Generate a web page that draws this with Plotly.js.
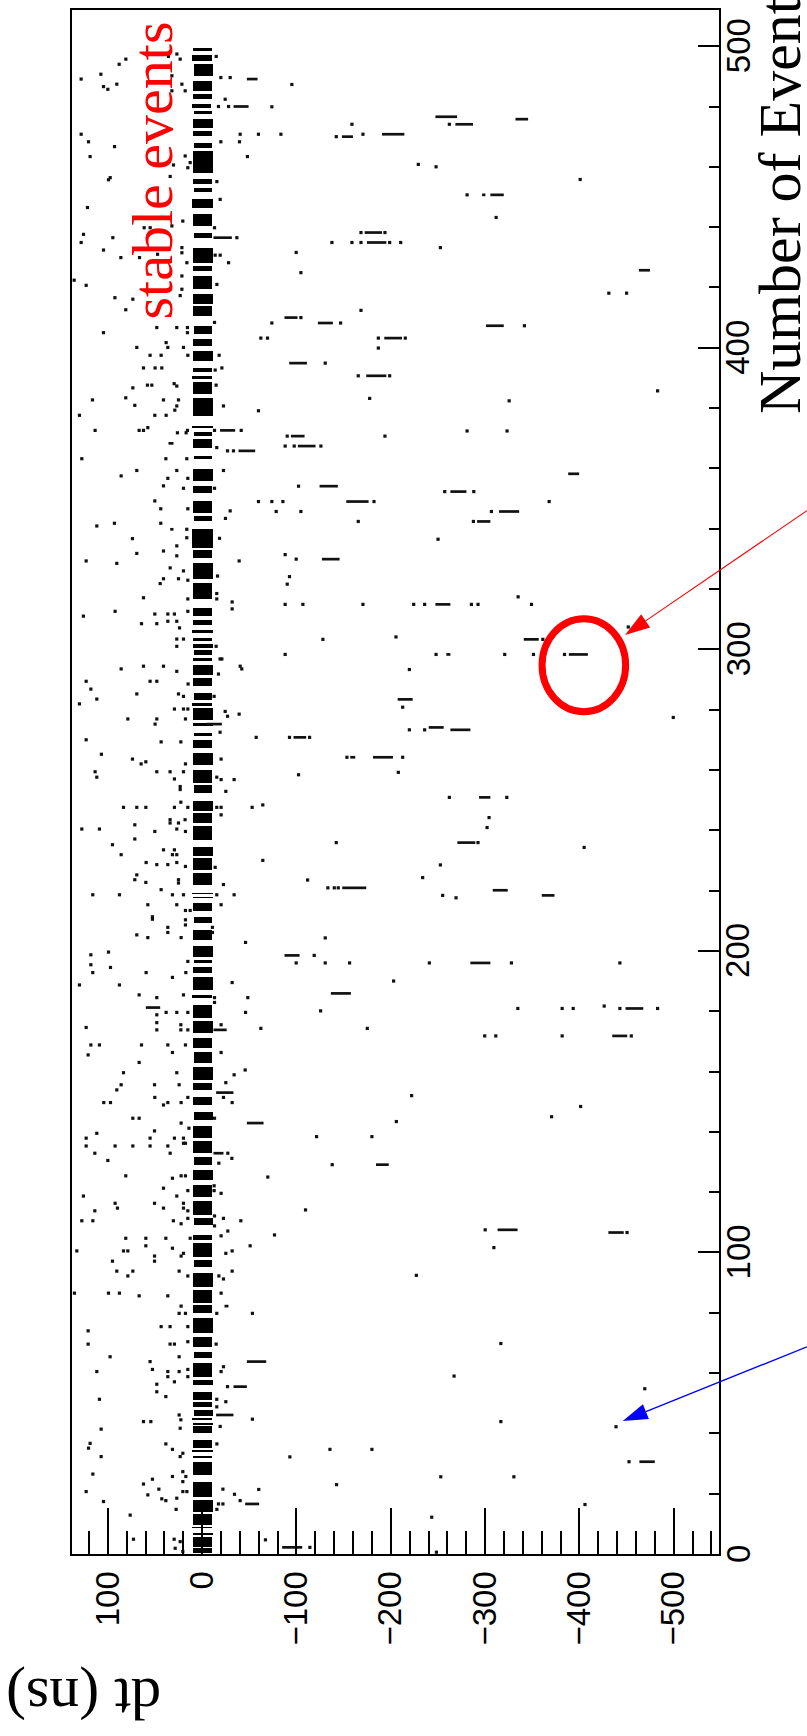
<!DOCTYPE html>
<html>
<head>
<meta charset="utf-8">
<script src="https://cdn.plot.ly/plotly-3.0.1.min.js"></script>
<style>html,body{margin:0;padding:0;background:#fff;}#chart{width:807px;height:1736px;}</style>
</head>
<body>
<div id="chart"></div>
<script>
// ---------------- DATA ----------------
// axis tick values
const dtTicks = [100, 0, -100, -200, -300, -400, -500];
const eventTicks = [0, 100, 200, 300, 400, 500];

// dense band of hits around dt = 0 : event span (top/bottom) and dt span (hi/lo)
const bandTop = [
499.5,497.0,494.0,488.5,484.0,480.8,478.5,475.8,472.0,468.0,
465.3,455.9,453.1,449.2,444.3,438.2,433.2,427.0,423.8,417.7,
413.8,407.3,402.8,399.0,393.4,390.7,388.5,383.5,374.1,372.2,
369.6,364.1,359.7,354.2,349.2,344.2,339.8,333.1,328.7,322.1,
313.7,309.8,306.5,303.8,301.6,299.9,297.1,294.9,290.5,285.5,
282.2,280.5,275.6,272.2,270.0,265.6,260.1,255.1,249.6,245.7,
241.3,234.6,230.8,225.8,219.2,218.0,215.8,211.4,207.0,201.5,
197.0,194.8,191.5,185.4,182.1,176.6,171.0,166.6,161.6,156.1,
151.7,146.7,141.8,136.8,131.8,127.4,122.4,116.9,111.3,105.8,
103.0,97.5,93.1,87.6,82.6,78.2,72.1,67.1,63.2,57.7,
53.8,50.4,47.8,45.0,43.4,42.3,37.8,34.5,32.5,30.6,
24.0,17.9,13.3,9.1,7.0,5.7,1.9];
const bandBottom = [
498.3,495.0,490.0,485.2,482.4,479.6,477.5,473.0,470.3,466.4,
458.0,454.2,451.5,446.5,440.4,436.5,428.2,425.5,419.4,414.5,
410.6,404.5,400.6,395.6,391.8,389.6,384.6,377.4,373.3,370.8,
366.9,363.0,355.8,352.0,345.3,342.5,333.7,330.4,323.2,316.6,
311.0,308.2,305.4,302.6,300.4,298.2,296.0,291.6,287.7,283.3,
281.2,276.7,274.5,271.1,267.3,261.7,255.7,252.3,246.3,242.4,
236.8,231.3,226.9,222.0,218.7,217.5,213.1,209.2,203.7,198.1,
196.0,192.6,187.1,184.3,177.7,172.7,167.7,162.7,157.2,153.9,
148.9,144.0,137.9,132.9,129.0,124.0,118.5,112.4,109.1,104.1,
98.6,95.3,88.7,83.1,79.8,73.2,68.8,64.9,58.8,56.0,
51.0,48.9,45.6,44.4,42.8,40.0,35.1,33.9,31.7,26.2,
19.0,14.0,9.6,8.5,6.3,2.4,0.3];
const bandHi = [
9.5,10.5,9.0,10.0,9.5,10.5,9.0,10.0,9.5,9.0,
10.0,9.5,9.0,10.5,10.0,9.0,10.0,9.5,10.0,9.5,
10.0,9.0,9.5,10.0,9.5,10.5,9.5,10.0,10.5,9.0,
9.5,9.0,10.0,9.5,10.0,9.0,10.5,9.5,10.0,9.5,
10.0,9.5,10.5,10.0,9.5,9.0,9.5,10.0,9.5,9.0,
10.5,10.0,9.5,9.0,10.0,9.5,10.0,9.0,10.0,9.5,
10.0,9.5,10.0,9.5,10.5,10.0,9.5,9.0,10.0,9.5,
9.0,9.5,10.0,10.5,10.0,9.5,10.0,9.0,10.0,9.5,
10.0,9.0,10.0,9.5,9.0,10.0,9.5,10.0,9.0,9.5,
10.0,9.0,9.5,10.0,9.5,10.0,9.5,9.0,10.0,9.5,
10.0,9.5,9.0,10.5,10.0,9.5,10.0,10.5,9.5,10.0,
9.5,10.0,9.5,10.5,10.0,9.5,10.0];
const bandLo = [
-10.0,-10.5,-11.0,-10.0,-10.5,-9.5,-10.0,-11.0,-10.5,-10.0,
-11.0,-10.5,-10.0,-11.0,-10.5,-10.0,-11.0,-10.0,-10.5,-11.0,
-10.5,-10.0,-10.5,-11.0,-10.0,-10.5,-10.0,-11.0,-11.0,-10.5,
-10.0,-10.5,-11.0,-10.0,-10.5,-10.0,-11.0,-10.5,-11.0,-10.5,
-10.5,-10.0,-11.0,-10.5,-11.0,-10.0,-10.5,-11.0,-10.0,-10.5,
-10.5,-11.0,-11.0,-10.5,-10.0,-11.0,-10.5,-10.0,-11.0,-10.5,
-10.0,-11.0,-10.5,-10.0,-11.0,-11.0,-10.5,-10.0,-10.5,-11.0,
-10.0,-10.5,-11.0,-10.0,-10.5,-11.0,-10.0,-10.5,-11.0,-10.5,
-10.0,-11.0,-10.5,-10.0,-10.5,-11.0,-10.5,-10.0,-11.0,-10.5,
-10.0,-10.5,-11.0,-10.5,-10.0,-11.0,-10.5,-10.0,-10.5,-11.0,
-10.5,-10.0,-11.0,-10.5,-11.0,-10.0,-10.5,-11.0,-10.5,-10.0,
-10.5,-11.0,-10.0,-10.5,-11.0,-10.5,-10.0];

// isolated hits: dt (ns) and event number
const dotDt = [
// events 500-416
128.3,107.4,88.0,80.9,104.6,100.0,90.5,26.8,23.3,35.7,
32.1,32.1,21.5,18.0,-14.9,-19.8,-29.7,-24.4,-17.3,-28.0,
128.3,120.5,92.9,118.8,-40.3,-39.6,-19.8,-48.0,30.4,33.9,
99.3,97.5,18.0,12.7,15.2,-15.6,121.6,-19.1,61.5,55.1,
32.1,20.5,-13.1,-36.8,125.8,128.3,104.6,94.7,86.2,66.4,
47.3,21.5,21.5,16.2,-13.8,-19.1,-28.0,123.0,135.7,21.5,
21.5,-15.6,23.3,92.5,
// events 416-317
73.5,81.0,48.1,26.9,104.6,15.6,15.6,-13.1,69.3,38.2,
36.4,19.8,55.2,43.5,15.2,-18.0,62.2,49.9,42.8,-13.8,
-20.9,73.5,58.0,53.4,29.7,26.9,-14.8,116.3,81.0,41.0,
25.1,26.9,71.4,-22.6,130.1,50.2,38.2,29.0,113.5,66.8,
62.2,57.6,26.2,17.0,15.6,-13.1,-41.4,16.3,127.6,38.5,
-15.5,-26.9,-33.2,85.9,69.3,36.4,26.9,-22.6,15.2,41.0,
19.8,-13.1,50.2,43.9,15.2,-29.7,111.7,93.0,43.9,-24.7,
16.3,16.3,-18.4,73.9,69.3,41.0,26.9,26.9,123.0,90.5,
-39.2,33.9,19.8,44.5,41.0,25.1,15.2,-16.3,62.2,
// events 317-149
15.2,-15.5,-15.5,-31.8,-31.8,125.9,92.3,50.2,36.4,29.4,
15.2,64.3,48.1,36.4,26.9,24.0,26.9,19.8,26.9,-14.8,
-19.0,-20.9,85.9,62.2,41.0,26.9,-40.3,-42.0,-17.3,123.0,
118.0,111.7,55.2,48.1,14.9,69.3,25.1,19.8,-12.7,130.1,
78.8,48.1,49.9,29.4,19.8,15.2,17.7,-24.4,-26.9,-39.2,
-19.0,123.0,43.5,22.6,106.8,73.9,59.7,64.7,17.7,-20.1,
113.5,111.7,48.1,34.0,19.8,29.4,-15.5,-20.1,-33.9,23.3,
23.3,-25.1,83.4,69.3,59.7,29.4,15.2,-15.5,-20.1,22.6,
-20.1,34.0,34.0,18.1,25.1,127.6,108.9,71.4,71.4,50.2,
26.9,17.7,95.1,85.9,41.0,29.4,31.5,26.9,59.4,48.1,
36.4,26.9,17.7,-13.8,69.3,71.4,59.7,25.1,25.1,-22.6,
116.0,87.7,43.5,31.5,19.8,-15.5,-33.9,57.6,26.9,-20.1,
17.7,12.7,52.7,52.7,17.7,17.7,36.4,36.4,69.3,57.6,
22.3,-10.9,-10.9,-46.0,118.0,99.3,118.0,97.2,116.0,59.4,
15.2,17.3,31.5,-31.8,130.1,87.7,66.8,48.1,19.8,-13.1,
-13.1,-48.4,48.1,38.2,26.9,15.2,-46.0,48.1,48.1,123.0,
22.6,22.6,15.2,-20.1,118.0,108.9,64.3,36.4,17.7,120.9,
31.5,-20.1,66.8,83.4,26.9,-45.6,-33.9,85.9,90.5,50.5,
24.4,-25.1,104.3,97.2,50.2,41.0,36.4,22.3,15.2,-22.6,
-31.8,
// events 145-46
73.5,66.8,22.3,14.0,-13.1,111.7,123.0,123.0,92.3,73.5,
55.2,55.2,50.5,29.4,19.8,36.4,19.8,17.7,-27.2,-31.5,
113.8,33.9,100.0,-17.7,81.0,31.5,22.3,17.7,41.0,15.2,
26.9,-12.7,-12.7,-20.1,125.9,92.3,89.8,50.5,41.0,19.8,
19.8,15.2,113.8,127.6,115.9,30.5,15.2,22.3,-13.1,-13.1,
-22.6,-41.0,-27.2,81.0,59.7,38.5,59.7,83.4,78.8,31.5,
132.9,12.7,-20.1,-50.9,22.3,19.8,-25.1,-31.8,95.1,50.5,
50.5,90.5,73.5,78.8,24.4,15.2,-17.7,-22.6,-31.8,135.4,
99.3,87.7,66.8,36.4,-20.1,22.3,17.7,24.4,-15.5,43.5,
34.0,15.2,120.9,120.9,34.0,29.4,15.2,-14.8,97.6,24.4,
55.2,52.7,111.7,36.4,36.4,24.4,15.2,15.2,-22.6,-20.1,
29.4,48.1,48.1,38.5,-26.9,108.9,-15.5,-15.5,-25.1,24.4,
// events 45-0
62.2,54.4,22.6,107.1,23.3,-19.1,120.5,118.8,107.1,38.5,
31.5,23.3,20.5,-15.6,115.9,52.7,62.2,45.9,31.5,20.5,
17.3,20.5,123.0,57.6,42.8,38.5,26.9,20.5,16.2,-22.0,
-34.3,-40.3,104.6,-17.3,-22.0,27.6,-15.6,76.3,72.8,29.7,
28.6,23.3,20.5,
// far side (dt < -50)
-95.1,-73.9,-158.8,-262.1,-59.7,-83.5,-142.2,-170.5,-229.2,-248.0,
-400.8,-280.9,-311.7,-168.4,-193.8,-137.6,-158.8,-168.4,-198.8,-210.5,
-252.6,-99.7,-104.7,-431.2,-450.0,-168.4,-73.9,-104.7,-146.8,-341.7,
-62.2,-69.3,-186.8,-215.4,-186.8,-130.5,-165.5,-198.8,-177.6,-325.5,
-482.9,-59.7,-280.9,-323.3,-90.2,-193.8,-88.0,-97.6,-125.9,-102.2,
-257.2,-288.0,-59.7,-73.9,-85.6,-182.2,-367.9,-78.5,-104.7,-306.7,
-165.5,-287.6,-250.1,-88.0,-99.7,-92.6,-90.2,-88.0,-106.8,-170.5,
-224.3,-235.9,-285.5,-292.5,-349.2,-335.0,-128.0,-205.5,-361.2,-451.8,
-88.0,-248.0,-320.8,-351.3,-384.2,-219.7,-212.6,-499.5,-219.7,-235.9,
-57.3,-92.6,-113.9,-153.5,-212.6,-102.2,-208.0,-262.1,-323.0,-53.0,
-64.3,-304.2,-302.1,-142.2,-292.5,-405.0,-64.3,-252.6,-111.8,-233.8,
-133.3,-140.1,-144.3,-255.0,-269.2,-130.5,-118.8,-99.7,-130.5,-156.3,
-240.9,-327.9,-442.9,-203.0,-125.6,-334.7,-381.7,-393.4,-442.9,-482.9,
-426.3,-62.2,-175.1,-299.6,-311.3,-381.7,-455.0,-222.1,-205.9,-121.3,
-180.0,-370.5,-401.3,-137.9,-69.6,-109.6,-76.7,-300.1,-450.5,-309.3,
-227.1,-53.3,-316.7,-267.1,-469.3,-53.3,-316.7,-438.8,-135.5,-180.0,
-93.0,-452.6,-253.0,-330.5,-142.5,-60.0,-405.9,-243.4,-67.1,-114.2,
-248.4];
const dotEv = [
// events 500-416
489.1,490.7,494.0,495.7,486.6,485.7,487.4,497.4,495.7,496.6,
490.2,485.2,487.4,485.2,496.6,489.6,489.6,482.4,480.0,480.0,
470.8,468.3,466.7,463.4,470.8,468.3,468.3,463.4,460.6,456.8,
455.7,456.4,463.6,461.4,459.7,455.1,446.5,449.2,439.8,439.8,
440.4,442.0,439.8,436.5,437.6,434.9,432.4,436.5,429.9,429.9,
431.0,433.2,431.5,428.2,430.7,430.7,428.2,420.7,422.4,423.8,
419.4,421.0,417.3,416.6,
// events 416-317
416.1,412.6,406.7,406.7,405.0,406.7,405.0,408.4,400.1,401.7,
400.1,400.1,397.5,397.5,397.5,397.5,393.3,393.3,393.3,392.6,
393.3,386.7,387.6,387.6,388.1,387.3,387.6,382.7,383.4,382.7,
382.7,380.7,380.9,380.7,377.6,377.6,377.6,379.3,372.6,372.6,
372.6,373.5,371.8,371.8,372.6,372.6,372.6,363.2,363.2,363.2,
366.9,365.8,365.8,357.5,359.3,356.7,359.3,359.3,356.7,354.2,
353.4,353.4,349.2,346.6,346.6,345.9,340.9,341.8,341.8,343.4,
339.8,337.0,336.8,336.7,331.8,332.6,334.3,331.0,329.3,328.5,
329.3,327.0,326.0,321.8,323.4,323.4,322.9,324.3,317.1,
// events 317-149
316.7,318.5,316.7,315.7,313.4,311.0,312.6,311.7,311.7,311.7,
312.6,308.5,308.5,309.3,309.3,307.1,303.4,303.4,301.0,301.0,
296.8,296.8,293.5,294.4,294.4,292.7,294.4,293.5,291.8,289.4,
286.8,283.5,289.4,289.4,288.5,285.2,285.2,284.4,284.4,281.9,
276.9,276.9,275.2,280.2,280.2,280.2,276.9,279.4,277.8,278.5,
272.5,270.0,269.3,269.3,265.2,263.6,262.7,262.0,262.0,263.6,
259.4,257.6,259.4,259.4,259.4,257.0,257.6,256.8,256.8,254.5,
253.5,252.9,247.6,247.6,247.6,247.6,247.6,247.6,247.6,249.3,
245.1,243.5,242.4,243.5,242.4,240.4,240.4,241.8,237.1,239.6,
240.4,239.6,235.2,231.9,233.5,233.5,231.9,231.9,229.3,228.6,
228.6,229.3,228.0,227.7,225.2,223.6,222.7,223.6,222.5,222.0,
218.6,218.6,220.3,218.6,218.6,218.6,218.6,215.3,215.3,215.3,
213.4,213.4,211.3,210.5,210.3,208.6,207.8,206.1,205.3,204.4,
204.4,207.8,206.1,202.8,198.7,199.6,195.4,194.5,192.8,192.8,
196.5,192.8,191.2,189.5,188.7,188.7,185.4,184.5,185.4,184.5,
182.9,184.5,178.8,179.6,179.6,179.6,179.6,176.2,173.8,174.6,
175.5,173.8,173.8,175.5,168.8,168.8,168.8,168.8,168.8,165.5,
166.3,166.3,163.0,159.6,159.6,160.5,158.9,155.6,153.9,155.6,
155.6,156.3,149.7,149.7,151.4,148.9,149.7,149.7,151.4,151.4,
149.7,
// events 145-46
144.5,144.5,142.9,141.2,144.5,139.5,137.9,135.3,135.3,135.3,
135.3,137.9,140.3,137.9,137.9,135.3,136.2,136.2,132.9,131.2,
132.9,132.9,130.5,129.6,125.4,124.6,125.4,125.4,121.3,120.5,
118.7,122.1,120.5,119.6,118.7,116.3,114.7,116.3,114.7,116.3,
114.7,113.8,113.8,110.5,110.5,110.5,111.3,109.5,112.1,108.8,
111.3,110.5,107.1,104.7,104.7,104.7,102.2,100.5,100.5,101.4,
100.5,104.7,105.5,102.2,98.8,99.7,99.7,100.5,97.1,98.8,
97.1,93.8,93.8,92.2,93.8,92.2,92.2,91.2,93.8,86.5,
86.5,86.5,85.6,85.6,86.5,82.2,79.8,79.8,79.8,75.4,
75.4,75.4,74.0,69.6,69.6,69.6,70.4,69.6,65.4,65.4,
63.8,61.2,60.5,60.5,58.8,60.5,61.2,58.8,62.1,60.5,
57.1,56.3,53.8,52.2,55.5,51.3,51.3,48.8,50.5,46.1,
// events 45-0
43.9,43.9,44.5,41.4,41.7,42.3,35.1,36.7,32.3,36.5,
34.7,32.3,33.4,36.5,26.5,24.8,23.2,21.5,25.7,27.3,
25.7,24.0,20.7,19.6,18.3,17.7,18.5,20.7,20.7,21.5,
19.8,17.7,17.4,16.6,16.6,14.8,14.8,12.9,4.9,4.9,
1.9,4.1,0.8,
// far side (dt < -50)
487.3,479.9,474.1,474.1,470.8,470.8,470.0,470.8,460.8,460.0,
455.8,450.7,443.2,438.2,438.2,434.9,434.9,434.9,434.9,434.9,
433.2,431.6,424.9,418.1,418.1,412.4,408.2,410.0,408.2,407.3,
403.2,403.2,403.2,403.2,399.9,394.9,390.7,390.7,383.2,382.4,
385.7,379.1,372.4,372.4,370.7,370.7,367.4,367.4,367.4,354.1,
352.3,352.3,349.0,349.0,349.0,349.0,349.0,345.7,345.7,345.7,
342.4,342.4,336.5,331.4,329.9,324.1,321.6,314.9,314.9,314.9,
314.9,314.9,314.9,314.9,314.9,317.4,303.3,304.1,303.3,307.4,
298.3,298.3,298.3,298.3,298.3,293.3,280.8,277.4,273.3,273.3,
270.8,270.8,270.8,264.2,264.2,258.4,259.2,250.9,250.9,247.6,
248.4,244.2,240.9,235.9,235.9,234.3,230.0,228.5,223.5,224.3,
220.9,220.9,220.9,218.4,217.6,204.3,198.5,196.0,196.0,196.0,
196.0,196.0,196.0,190.0,180.1,180.9,180.9,180.9,180.9,180.9,
181.7,174.3,174.3,171.8,171.8,171.8,171.8,152.0,143.4,138.4,
138.4,145.0,148.4,129.1,125.0,114.1,105.8,107.5,106.6,101.6,
92.4,79.8,69.8,59.0,54.8,44.7,43.9,42.2,34.7,34.7,
32.2,30.6,25.6,25.6,23.0,21.4,16.4,12.2,4.7,2.2,
0.6];

// runs of several hits in one event: dt start, dt end, event
const dashFrom = [
-47.4,-33.3,-247.3,-268.5,-332.2,-148.2,-190.7,-296.8,-305.6,-172.3,
-174.7,-12.0,-463.1,-87.3,-122.7,-301.0,-193.1,-92.3,-174.0,-94.1,
-101.5,-388.1,-124.5,-263.2,-152.8,-314.8,-291.5,-127.0,-247.3,-341.0,
-258.9,-388.8,-207.3,-263.2,-240.2,-96.9,-157.0,-181.1,-293.6,-270.6,
-148.5,-308.1,-360.1,-87.3,-284.4,-136.5,-448.9,-434.8,-184.3,-313.2,
-430.7,-463.6,-84.8,-19.0,-38.5,35.7,33.9,-4.9,59.7,-12.0,
-14.8,-12.0,-47.4,-23.7,-47.4,-33.2,-14.8,-45.6];
const dashTo = [
-58.7,-49.2,-270.3,-287.2,-345.6,-159.9,-214.4,-300.3,-319.8,-190.7,
-195.3,-31.5,-474.8,-101.1,-138.6,-319.8,-211.9,-111.1,-195.3,-108.6,
-120.2,-399.7,-143.9,-280.2,-176.5,-336.1,-305.6,-145.7,-263.2,-356.9,
-263.2,-409.0,-223.2,-284.4,-256.1,-110.3,-162.3,-202.3,-305.6,-289.7,
-174.0,-324.0,-373.6,-103.3,-305.6,-157.7,-467.7,-450.7,-197.8,-334.4,
-447.0,-479.9,-106.1,-35.0,-56.2,30.4,30.4,-20.9,44.5,-26.0,
-33.2,-22.6,-65.1,-27.9,-67.9,-47.4,-33.2,-60.4];
const dashEv = [
489.1,480.0,476.6,474.1,475.8,470.0,470.8,450.7,450.7,438.2,
434.9,436.5,425.7,410.0,408.2,407.3,403.2,394.9,390.7,370.7,
367.4,358.2,354.1,352.3,349.0,345.7,342.4,329.9,314.9,303.3,
298.3,298.3,283.4,273.3,274.1,270.8,264.2,264.2,250.9,235.9,
220.9,220.1,218.4,198.5,196.0,185.9,180.9,171.8,129.1,107.5,
106.6,30.6,2.2,372.6,365.8,368.3,339.8,275.2,181.2,173.8,
153.0,132.9,142.9,82.2,63.8,55.5,46.1,16.6];

// highlighted hit (red circle) : dt span and event span
const circleDt = [-360.4, -449.0];
const circleEv = [279.3, 310.1];

// ---------------- LAYOUT HELPERS ----------------
const W = 807, H = 1736;
const M = {l: 72, r: 88, t: 10, b: 182};
const PW = W - M.l - M.r, PH = H - M.t - M.b;
const px = X => (X - M.l) / PW;
const py = Y => (H - M.b - Y) / PH;

// band bars
const bandY = bandTop.map((t, i) => (t + bandBottom[i]) / 2);
const bandW = bandTop.map((t, i) => t - bandBottom[i]);
const bandLen = bandHi.map((h, i) => h - bandLo[i]);

// dash segments
const dX = [], dY = [];
dashFrom.forEach((a, i) => { dX.push(a, dashTo[i], null); dY.push(dashEv[i], dashEv[i], null); });

const ink = '#111';
const traces = [
  {type: 'bar', orientation: 'h', y: bandY, x: bandLen, base: bandLo, width: bandW,
   marker: {color: '#000', line: {width: 0}}, hoverinfo: 'skip'},
  {type: 'scatter', mode: 'lines', x: dX, y: dY, connectgaps: false,
   line: {color: ink, width: 2.7}, hoverinfo: 'skip'},
  {type: 'scatter', mode: 'markers', x: dotDt, y: dotEv,
   marker: {symbol: 'square', size: 3.2, color: ink, line: {width: 0}}, hoverinfo: 'skip'}
];

// arrows (pixel geometry of the annotation graphics)
function arrowShapes(tip, tail, color, lw, len, half) {
  const dx = tail[0] - tip[0], dy = tail[1] - tip[1];
  const L = Math.hypot(dx, dy), ux = dx / L, uy = dy / L;
  const bx = tip[0] + ux * len, by = tip[1] + uy * len;
  const c1 = [bx - uy * half, by + ux * half], c2 = [bx + uy * half, by - ux * half];
  return [
    {type: 'line', xref: 'paper', yref: 'paper', x0: px(tail[0]), y0: py(tail[1]),
     x1: px(bx), y1: py(by), line: {color: color, width: lw}},
    {type: 'path', xref: 'paper', yref: 'paper', fillcolor: color, line: {width: 0},
     path: 'M' + px(tip[0]) + ',' + py(tip[1]) + ' L' + px(c1[0]) + ',' + py(c1[1]) +
           ' L' + px(c2[0]) + ',' + py(c2[1]) + ' Z'}
  ];
}

const shapes = [
  {type: 'circle', xref: 'x', yref: 'y', x0: circleDt[0], x1: circleDt[1], y0: circleEv[0], y1: circleEv[1],
   line: {color: '#ff0000', width: 7}},
  ...arrowShapes([625, 635], [807, 510.6], '#ff0000', 1.1, 25, 8),
  ...arrowShapes([622.7, 1421], [807, 1346.8], '#0000ff', 1.4, 25, 8)
];

const serif = 'Liberation Serif, Times New Roman, serif';
const sans = 'Liberation Sans, Arial, sans-serif';

// event-axis tick labels, placed on the y scale
const eventLabels = eventTicks.map(v => ({
  text: String(v), xref: 'paper', yref: 'y', x: px(738), y: v,
  xanchor: 'center', yanchor: 'middle', textangle: -90, showarrow: false,
  font: {family: sans, size: 33, color: '#000'}
}));

const layout = {
  width: W, height: H,
  margin: {l: M.l, r: M.r, t: M.t, b: M.b, pad: 0},
  paper_bgcolor: '#fff', plot_bgcolor: '#fff',
  showlegend: false,
  bargap: 0,
  xaxis: {
    range: [138, -548], tickmode: 'array', tickvals: dtTicks,
    ticks: 'inside', ticklen: 46, tickwidth: 2, tickcolor: '#000',
    tickangle: -90, ticklabelstandoff: 2,
    tickfont: {family: sans, size: 33, color: '#000'},
    minor: {dtick: 20, tick0: 0, ticks: 'inside', ticklen: 23, tickwidth: 2, tickcolor: '#000', showgrid: false},
    showgrid: false, zeroline: false, showline: true, mirror: true, linecolor: '#000', linewidth: 2,
    fixedrange: true
  },
  yaxis: {
    side: 'right', range: [0, 512], tickmode: 'array', tickvals: eventTicks,
    ticks: 'inside', ticklen: 21, tickwidth: 2, tickcolor: '#000',
    showticklabels: false,
    minor: {dtick: 20, tick0: 0, ticks: 'inside', ticklen: 10, tickwidth: 2, tickcolor: '#000', showgrid: false},
    showgrid: false, zeroline: false, showline: true, mirror: true, linecolor: '#000', linewidth: 2,
    fixedrange: true, automargin: false
  },
  shapes: shapes,
  annotations: eventLabels.concat([
    {text: 'stable events', xref: 'paper', yref: 'paper', x: px(152), y: py(170.5),
     xanchor: 'center', yanchor: 'middle', textangle: -90, showarrow: false,
     font: {family: serif, size: 58, color: '#ff0000'}},
    {text: 'Number of Events', xref: 'paper', yref: 'paper', x: px(780), y: py(416),
     xanchor: 'center', yanchor: 'bottom', textangle: -90, showarrow: false,
     font: {family: serif, size: 60, color: '#000'}},
    {text: 'dt (ns)', xref: 'paper', yref: 'paper', x: px(84), y: py(1699),
     xanchor: 'center', yanchor: 'middle', textangle: 180, showarrow: false,
     font: {family: serif, size: 60, color: '#000'}}
  ])
};

Plotly.newPlot('chart', traces, layout, {staticPlot: true, displayModeBar: false});
</script>
</body>
</html>
